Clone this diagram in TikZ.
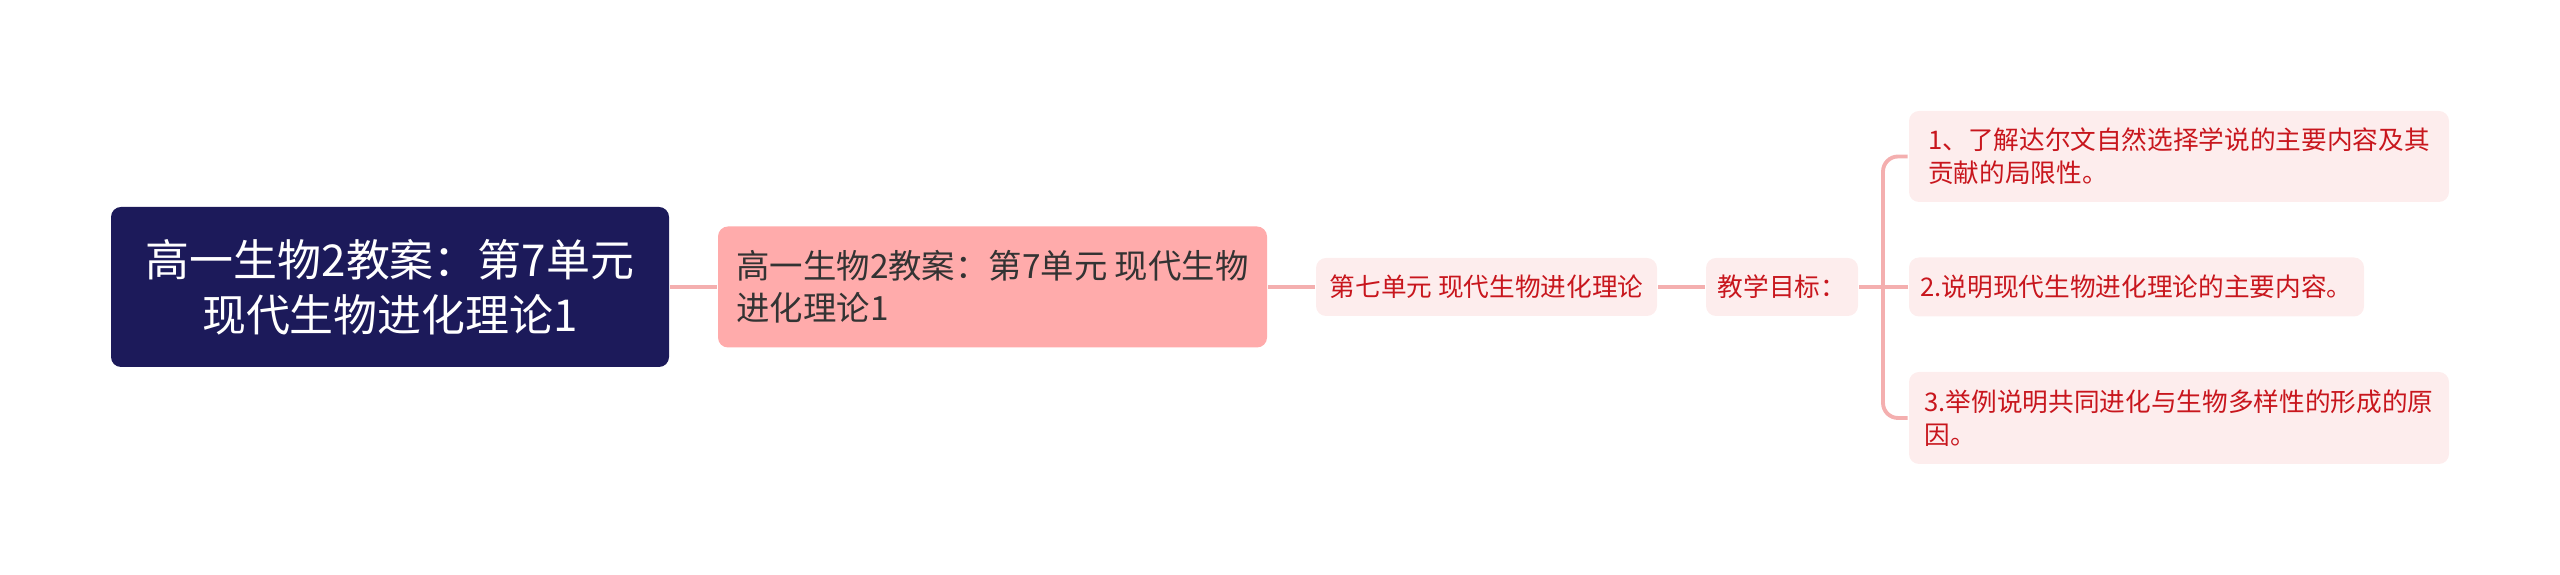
\documentclass[tikz,border=0pt]{standalone}
\usepackage{fontspec}
\setmainfont{Noto Sans CJK SC}
\definecolor{navy}{HTML}{1C1A5A}
\definecolor{rose}{HTML}{FFABAB}
\definecolor{blush}{HTML}{FDEDED}
\definecolor{wire}{HTML}{F4AFAF}
\definecolor{redtext}{HTML}{C8161D}
\begin{document}
\begin{tikzpicture}[thick,
        rootbox/.style={rounded corners=0.1cm, fill=navy, text=white, align=center, inner sep=0pt,
                minimum width=5.58cm, minimum height=1.60cm, font=\fontsize{12.5}{15.6}\selectfont},
        mainbox/.style={rounded corners=0.1cm, fill=rose, text=black!80, align=left, inner sep=0pt,
                minimum width=5.49cm, minimum height=1.21cm, font=\fontsize{9.5}{12}\selectfont},
        subbox/.style={rounded corners=0.1cm, fill=blush, text=redtext, align=left, inner sep=0pt,
                minimum height=0.58cm, font=\fontsize{7.3}{9.4}\selectfont},
        wireline/.style={draw=wire, line width=1.1pt}]
        \useasboundingbox (0,0) rectangle (25.6,5.75);
        \coordinate (fork) at (18.83,2.88);
        \node[rootbox] (root) at (3.90,2.88) {高一生物2教案：第7单元\\现代生物进化理论1};
        \node[mainbox] (unit) at (9.925,2.88) {高一生物2教案：第7单元 现代生物\\进化理论1};
        \node[subbox, minimum width=3.41cm] (theory) at (14.865,2.88) {第七单元 现代生物进化理论};
        \node[subbox, minimum width=1.52cm] (goal) at (17.82,2.88) {教学目标：};
        \node[subbox, minimum width=5.40cm, minimum height=0.91cm] (aim1) at (21.79,4.185) {1、了解达尔文自然选择学说的主要内容及其\\贡献的局限性。};
        \node[subbox, minimum width=4.55cm, minimum height=0.59cm] (aim2) at (21.365,2.88) {2.说明现代生物进化理论的主要内容。};
        \node[subbox, minimum width=5.40cm, minimum height=0.92cm] (aim3) at (21.79,1.57) {3.举例说明共同进化与生物多样性的形成的原\\因。};
        \draw[wireline] (root.east) -- (unit.west);
        \draw[wireline] (unit.east) -- (theory.west);
        \draw[wireline] (theory.east) -- (goal.west);
        \draw[wireline] (goal.east) -- (aim2.west);
        \draw[wireline, rounded corners=0.15cm] (fork) |- (aim1.west);
        \draw[wireline, rounded corners=0.15cm] (fork) |- (aim3.west);
\end{tikzpicture}
\end{document}
